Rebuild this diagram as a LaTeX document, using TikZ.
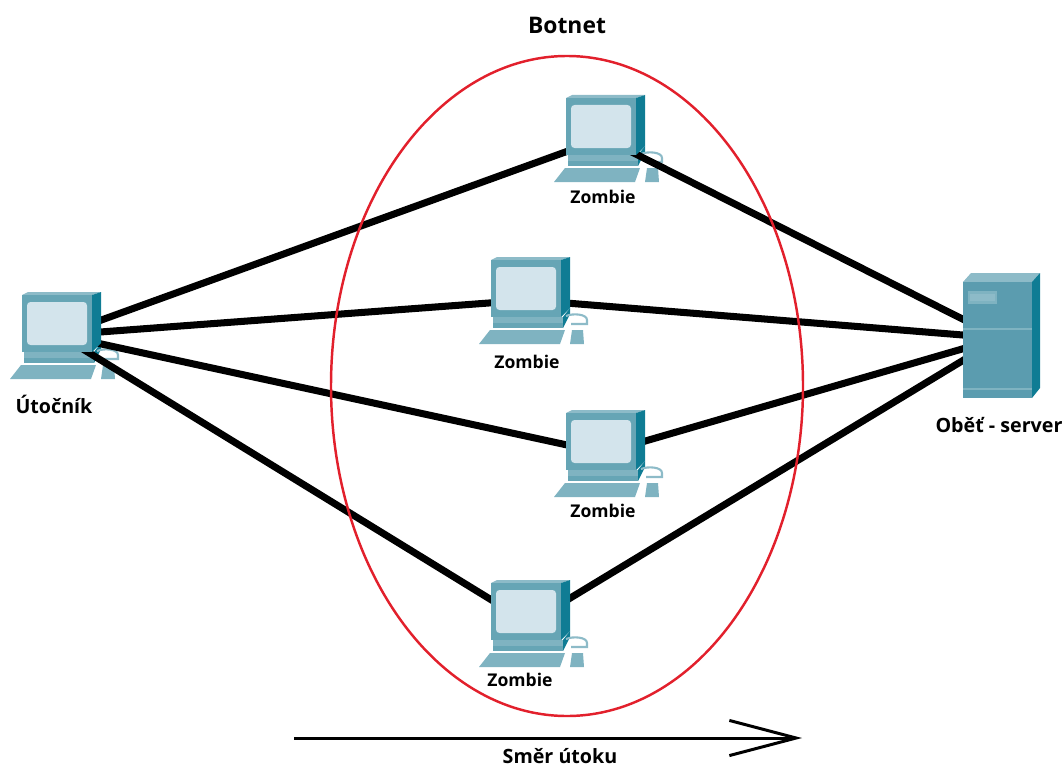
\documentclass[tikz,border=0pt]{standalone}
\usepackage{fontspec}
\setmainfont{Open Sans}
\usetikzlibrary{arrows.meta}
\definecolor{icontop}{HTML}{8DBBC8}
\definecolor{iconfront}{HTML}{66A5B5}
\definecolor{iconserver}{HTML}{5B9CAF}
\definecolor{iconside}{HTML}{0F7C94}
\definecolor{iconscreen}{HTML}{D3E4EC}
\definecolor{iconlight}{HTML}{7FB3C1}
\definecolor{botnetred}{HTML}{E2202C}
\tikzset{
	spojnice/.style={black, line width=4pt},
	popis/.style={font=\bfseries\fontsize{10}{12}\selectfont, inner sep=0pt},
	velkypopis/.style={popis, font=\bfseries\fontsize{11.2}{13}\selectfont},
	uzel/.style={inner sep=0pt, minimum size=1pt},
	pics/spodek/.style={code={
		\fill[iconlight] (-39,30) -- (36,30) -- (31,44) -- (-50,44) -- cycle;
		\fill[iconlight] (-36,17) rectangle (36,23);
		\fill[iconfront] (-36,23) rectangle (34,28);
		\fill[iconside] (34,17) -- (41,8) -- (41,14) -- (34,28) -- cycle;
		\draw[icontop, line width=1.2pt] (37,16) .. controls (44,13) and (58,14) .. (58,20) -- (58,24) -- (42,24);
		\fill[iconlight] (43,30) -- (54,30) -- (55,44) -- (41,44) -- cycle;
	}},
	pics/monitor/.style={code={
		\fill[icontop] (-38,-40) -- (-32,-43) -- (41,-43) -- (32,-40) -- cycle;
		\fill[iconside] (32,-40) -- (41,-43) -- (41,8) -- (32,17) -- cycle;
		\fill[iconfront] (-38,-40) rectangle (32,17);
		\fill[iconscreen, rounded corners=2pt] (-33,-33) rectangle (27,10);
	}},
	pics/skrin/.style={code={
		\fill[icontop] (-37,-56) -- (-29,-65) -- (40,-65) -- (32,-56) -- cycle;
		\fill[iconside] (32,-56) -- (40,-65) -- (40,50) -- (32,60) -- cycle;
		\fill[iconserver] (-37,-56) rectangle (32,60);
		\fill[iconlight] (-32,-47) rectangle (-3,-34);
		\fill[icontop] (-30,-44) rectangle (-5,-37);
		\fill[iconlight] (-37,-10) rectangle (32,-8);
		\fill[iconlight] (-37,50) rectangle (32,52);
	}}
}
\begin{document}
\begin{tikzpicture}[x=0.02cm, y=-0.02cm]
	\useasboundingbox (0,0) rectangle (1064,767);
	\node[uzel] (utocnik) at (60,335) {};
	\node[uzel] (zombie1) at (604,138) {};
	\node[uzel] (zombie2) at (529,300) {};
	\node[uzel] (zombie3) at (604,453) {};
	\node[uzel] (zombie4) at (529,623) {};
	\node[uzel] (server) at (1000,338) {};
	\coordinate (smerA) at (294,738);
	\coordinate (smerB) at (802,738);
	\foreach \z in {utocnik,zombie1,zombie2,zombie3,zombie4}{
		\pic at (\z) {spodek};
	}
	\foreach \z in {1,...,4}{
		\draw[spojnice] (utocnik) -- (zombie\z);
		\draw[spojnice] (zombie\z) -- (server);
	}
	\draw[botnetred, line width=1.4pt] (567,386) ellipse [x radius=236, y radius=330];
	\foreach \z in {utocnik,zombie1,zombie2,zombie3,zombie4}{
		\pic at (\z) {monitor};
	}
	\pic at (server) {skrin};
	\draw[black, line width=1.7pt, -{Straight Barb[length=38pt, width=20pt, line width=1.7pt]}] (smerA) -- (smerB);
	\node[popis, font=\bfseries\fontsize{13}{15}\selectfont] (botnet) at (567,25) {Botnet};
	\node[velkypopis] (popisU) at (54,404) {Útočník};
	\node[popis] (popis1) at (603,197) {Zombie};
	\node[popis] (popis2) at (527,362) {Zombie};
	\node[popis] (popis3) at (603,511) {Zombie};
	\node[popis] (popis4) at (520,680) {Zombie};
	\node[velkypopis] (popisS) at (999,425) {Oběť - server};
	\node[velkypopis] (smer) at (560,756) {Směr útoku};
\end{tikzpicture}
\end{document}
